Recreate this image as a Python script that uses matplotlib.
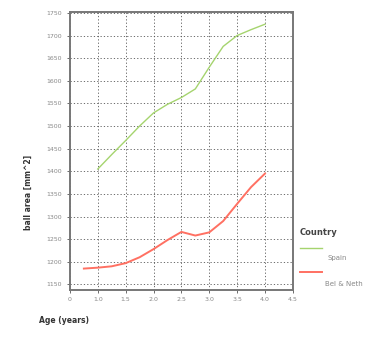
import matplotlib
matplotlib.use("Agg")
import matplotlib.pyplot as plt

# growth of ball area by age, two country groups
age_spain = [1.0, 1.25, 1.5, 1.75, 2.0, 2.25, 2.5, 2.75, 3.0, 3.25, 3.5, 3.75, 4.0]
area_spain = [1405, 1437, 1468, 1500, 1529, 1548, 1563, 1582, 1630, 1676, 1700, 1713, 1725]

age_belned = [0.75, 1.0, 1.25, 1.5, 1.75, 2.0, 2.25, 2.5, 2.75, 3.0, 3.25, 3.5, 3.75, 4.0]
area_belned = [1185, 1187, 1190, 1197, 1210, 1228, 1248, 1266, 1258, 1265, 1290, 1328, 1365, 1395]

x_ticks = [0.5, 1.0, 1.5, 2.0, 2.5, 3.0, 3.5, 4.0, 4.5]
x_labels = ["0", "1.0", "1.5", "2.0", "2.5", "3.0", "3.5", "4.0", "4.5"]
y_ticks = list(range(1150, 1751, 50))

fig = plt.figure(figsize=(3.74, 3.43), dpi=100)
ax = fig.add_axes([0.187, 0.155, 0.596, 0.81])

ax.plot(age_spain, area_spain, color="#a5d46e", lw=1.0, label="Spain")
ax.plot(age_belned, area_belned, color="#ff7062", lw=1.4, label="Bel & Neth")

ax.set_xlim(0.5, 4.5)
ax.set_ylim(1138, 1752)
ax.set_xticks(x_ticks)
ax.set_xticklabels(x_labels)
ax.set_yticks(y_ticks)
ax.tick_params(labelsize=4.5, labelcolor="#888888", length=2, color="#555555", width=0.6)
ax.grid(True, color="#555555", lw=0.6, linestyle=(0, (1.5, 2.5)))
ax.set_axisbelow(True)
for s in ax.spines.values():
    s.set_color("#777777")
    s.set_linewidth(1.4)

fig.text(0.075, 0.44, "ball area [mm^2]", rotation=90, ha="center", va="center",
         fontsize=5.5, fontweight="bold", color="#333333")
fig.text(0.105, 0.065, "Age (years)", ha="left", va="center",
         fontsize=5.5, fontweight="bold", color="#333333")

# legend drawn by hand outside the axes
fig.text(0.80, 0.322, "Country", fontsize=6, fontweight="bold", color="#444444", va="center")
fig.lines.append(plt.Line2D([0.803, 0.86], [0.278, 0.278], transform=fig.transFigure,
                            color="#a5d46e", lw=1.0))
fig.text(0.875, 0.248, "Spain", fontsize=5, color="#888888", va="center")
fig.lines.append(plt.Line2D([0.803, 0.86], [0.207, 0.207], transform=fig.transFigure,
                            color="#ff7062", lw=1.4))
fig.text(0.868, 0.172, "Bel & Neth", fontsize=5, color="#888888", va="center")

fig.savefig("out.png", dpi=100)
